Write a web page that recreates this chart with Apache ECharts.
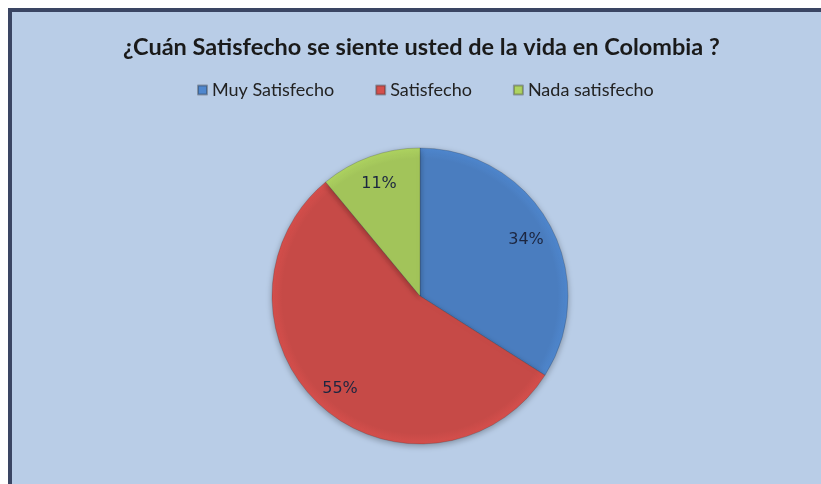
<!DOCTYPE html>
<html>
<head>
<meta charset="utf-8">
<style>
html,body{margin:0;padding:0;background:#fff;}
#chart{width:821px;height:484px;}
</style>
<script src="https://cdn.jsdelivr.net/npm/echarts@6/dist/echarts.min.js"></script>
</head>
<body>
<div id="chart"></div>
<script>
const titleText = '¿Cuán Satisfecho se siente usted de la vida en Colombia ?';
const categories = ['Muy Satisfecho', 'Satisfecho', 'Nada satisfecho'];
const values = [34, 55, 11];
const colors = ['#4a7dbf', '#c64a47', '#a2c45a'];

const chart = echarts.init(document.getElementById('chart'));
const data = categories.map((c, i) => ({
  name: c, value: values[i],
  itemStyle: {
    color: {
      type: 'radial', x: 420, y: 296, r: 148, global: true,
      colorStops: [
        {offset: 0, color: colors[i]},
        {offset: 0.93, color: colors[i]},
        {offset: 1, color: echarts.color.lift(colors[i], -0.08)}
      ]
    }
  }
}));
const labelData = categories.map((c, i) => ({name: c, value: values[i]}));

chart.setOption({
  backgroundColor: '#ffffff',
  animation: false,
  graphic: [{
    type: 'rect', z: -10,
    shape: {x: 10, y: 10, width: 830, height: 500},
    style: {fill: '#b9cde7', stroke: '#3a4563', lineWidth: 4}
  }],
  title: {
    text: titleText, left: 118, top: 30,
    textStyle: {fontFamily: 'Lato', fontWeight: 'bold', fontSize: 23.5, color: '#1a1a1a'}
  },
  legend: {
    data: categories, top: 76, left: 192,
    icon: 'rect', itemWidth: 9, itemHeight: 9, itemGap: 41,
    textStyle: {fontFamily: 'Lato', fontSize: 18, color: '#222'}
  },
  series: [{
    type: 'pie',
    center: [420, 296], radius: 148,
    startAngle: 90, clockwise: true,
    data: data,
    label: {show: false},
    labelLine: {show: false},
    itemStyle: {borderColor: 'rgba(40,40,40,0.35)', borderWidth: 0.6,
      shadowBlur: 6, shadowColor: 'rgba(0,0,0,0.3)', shadowOffsetY: 2},
    silent: true
  }, {
    type: 'pie',
    center: [420, 298], radius: 236,
    startAngle: 90, clockwise: true,
    data: labelData,
    silent: true,
    itemStyle: {color: 'rgba(0,0,0,0)'},
    label: {show: true, position: 'inside', formatter: '{d}%',
      fontFamily: 'DejaVu Sans', fontSize: 16, color: '#1c2640'},
    labelLine: {show: false},
    emphasis: {disabled: true}
  }]
});
</script>
</body>
</html>
